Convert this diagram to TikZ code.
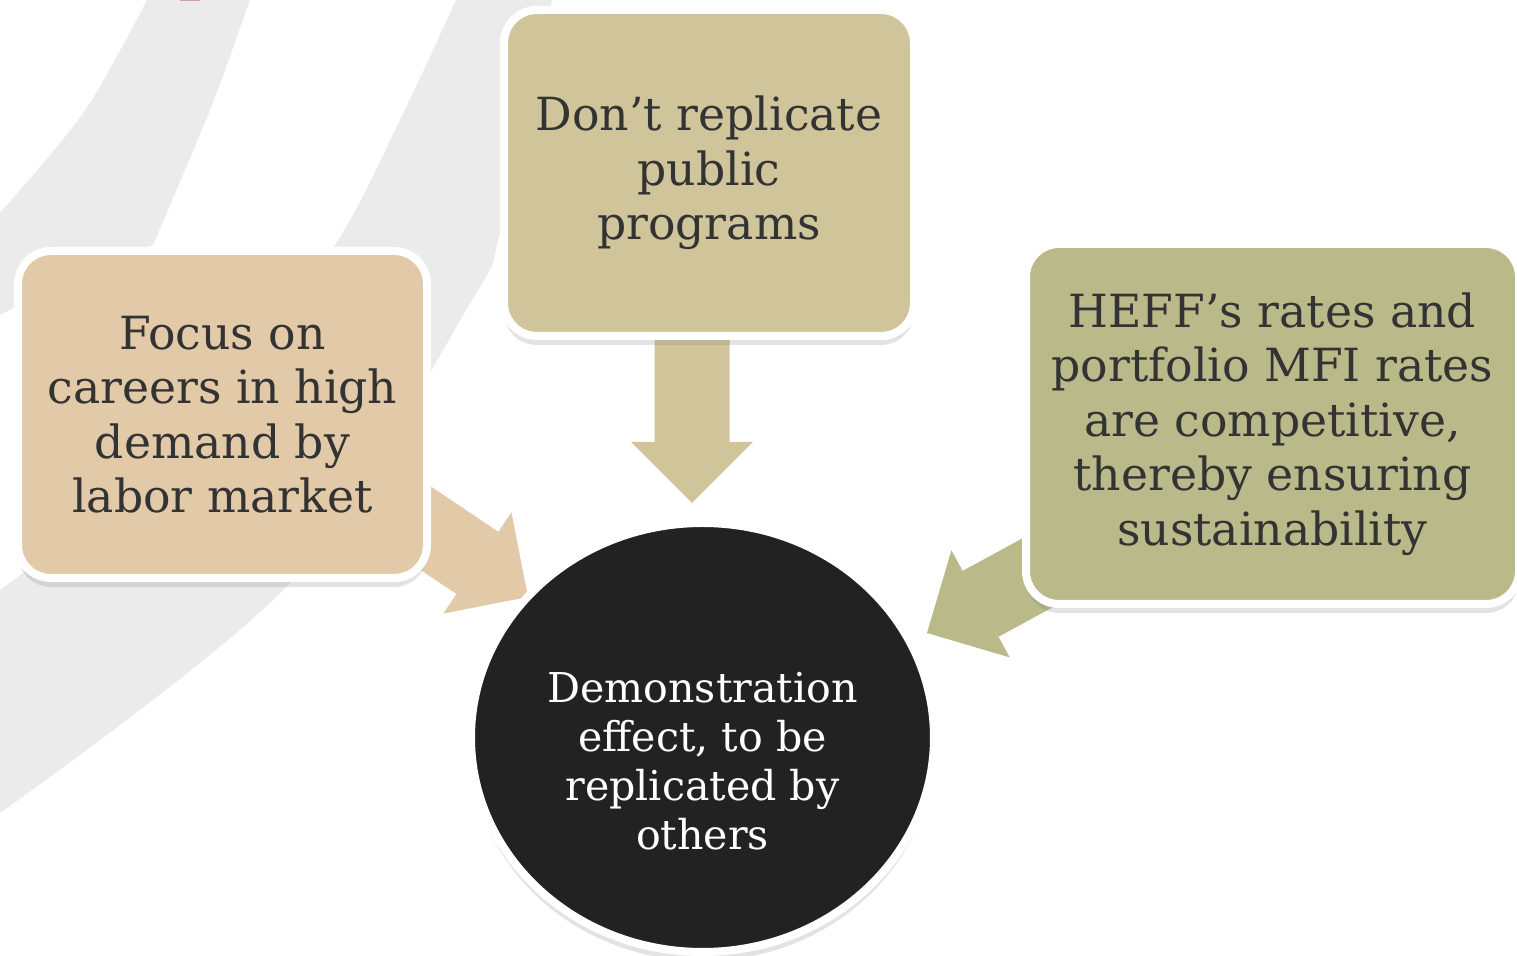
\documentclass[tikz,border=0pt]{standalone}
\usepackage{fontspec}
\setmainfont{DejaVu Serif}
\usetikzlibrary{positioning,arrows.meta,shapes.geometric,shadows}

\definecolor{tanL}{HTML}{E2C9A8}
\definecolor{tanC}{HTML}{D0C59A}
\definecolor{oliveR}{HTML}{B9B98A}
\definecolor{inkblack}{HTML}{222222}
\definecolor{txtgray}{HTML}{333333}
\definecolor{bandgray}{HTML}{EBEBEB}
\definecolor{redmark}{HTML}{CFA3AC}

\pgfdeclarelayer{deco}
\pgfdeclarelayer{flow}
\pgfsetlayers{deco,flow,main}

\begin{document}
\begin{tikzpicture}[every node/.style={align=center},
  tile/.style={draw=white, line width=0.8mm, rounded corners=3.3mm, inner sep=0pt, text=txtgray,
    font=\fontsize{13}{15.5}\selectfont, drop shadow={opacity=.22, shadow xshift=0mm, shadow yshift=-.9mm}},
  fat/.style={line width=7.5mm, -{Triangle[length=6.1mm, width=12.2mm, line width=0pt]}}]
\useasboundingbox (0,0) rectangle (15.17,-9.56);
\node[tile, fill=tanL, minimum width=4.09cm, minimum height=3.27cm] (f) at (2.225,-4.145) {Focus on\\careers in high\\demand by\\labor market};
\node[tile, fill=tanC, minimum width=4.10cm, minimum height=3.26cm] (p) at (7.09,-1.73) {Don’t replicate\\public\\programs};
\node[tile, fill=oliveR, minimum width=4.93cm, minimum height=3.60cm] (h) at (12.725,-4.24) {HEFF’s rates and\\portfolio MFI rates\\are competitive,\\thereby ensuring\\sustainability};
\node[ellipse, draw=white, line width=0.8mm, fill=inkblack, inner sep=0pt, minimum width=4.63cm, minimum height=4.29cm,
  drop shadow={opacity=.22, shadow xshift=0mm, shadow yshift=-.9mm}] (d) at (7.025,-7.375) {};
\node[text=white, font=\fontsize{11.7}{13.9}\selectfont] (dt) at (7.025,-7.61) {Demonstration\\effect, to be\\replicated by\\others};
\coordinate (tl) at (5.28,-5.97);
\coordinate (tc) at (6.92,-5.03);
\coordinate (tr) at (9.27,-6.33);
\begin{pgfonlayer}{flow}
\draw[fat, color=tanL] ([yshift=2.3mm]f.center) -- (tl);
\draw[fat, color=tanC] ([xshift=-1.7mm]p.center) -- (tc);
\draw[fat, color=oliveR] ([yshift=-2.1mm]h.center) -- (tr);
\end{pgfonlayer}
\begin{pgfonlayer}{deco}
\fill[bandgray] plot[smooth] coordinates {(1.47,0) (0.84,-1.12) (0,-2.13)}
  -- (0,-3.15) -- (1.0,-2.62) -- plot[smooth] coordinates {(1.53,-2.45) (2.1,-1.1) (2.5,0)} -- cycle;
\fill[bandgray] plot[smooth] coordinates {(4.56,0) (4.0,-1.2) (3.35,-2.45) (2.0,-4.3) (0,-5.9)}
  -- plot[smooth] coordinates {(0,-8.13) (2.9,-5.83) (4.72,-3.0) (5.0,-2.33) (5.52,0)} -- cycle;
\fill[redmark] (1.80,0) rectangle (2.00,-0.015);
\end{pgfonlayer}
\end{tikzpicture}
\end{document}
